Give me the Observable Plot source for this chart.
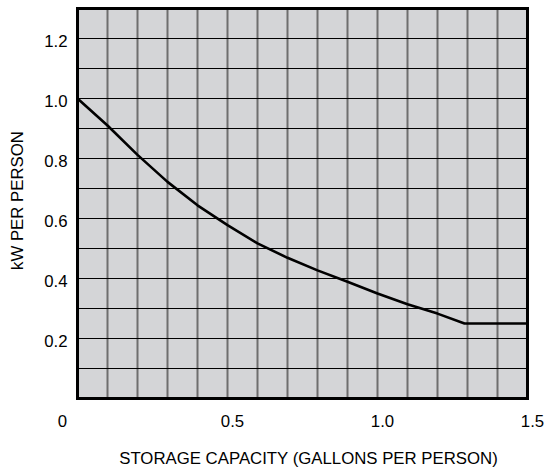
<!DOCTYPE html>
<html>
<head>
<meta charset="utf-8">
<script src="https://cdn.jsdelivr.net/npm/d3@7"></script>
<script src="https://cdn.jsdelivr.net/npm/@observablehq/plot@0.6"></script>
<style>
  html, body { margin: 0; padding: 0; background: #fff; }
  #chart svg { display: block; }
</style>
</head>
<body>
<div id="chart"></div>
<script>
// Storage capacity (gallons per person) vs kW per person
const storage = [0, 0.1, 0.2, 0.3, 0.4, 0.5, 0.6, 0.7, 0.8, 0.9, 1.0, 1.1, 1.2, 1.29, 1.5];
const kwPerPerson = [1.0, 0.91, 0.812, 0.722, 0.644, 0.578, 0.517, 0.469, 0.427, 0.389, 0.35, 0.314, 0.283, 0.25, 0.25];

const xTicks = [0.5, 1.0, 1.5];
const xOriginTick = [0];
const yTicks = [0.2, 0.4, 0.6, 0.8, 1.0, 1.2];
const xGrid = [0.1, 0.2, 0.3, 0.4, 0.5, 0.6, 0.7, 0.8, 0.9, 1.0, 1.1, 1.2, 1.3, 1.4];
const yGrid = [0.1, 0.2, 0.3, 0.4, 0.5, 0.6, 0.7, 0.8, 0.9, 1.0, 1.1, 1.2];

const xTitle = "STORAGE CAPACITY (GALLONS PER PERSON)";
const yTitle = "kW PER PERSON";

const data = storage.map((x, i) => ({x, y: kwPerPerson[i]}));

const FONT = "'Liberation Sans', Arial, Helvetica, sans-serif";
const FS = 16.8;

const chart = Plot.plot({
  width: 544,
  height: 468,
  marginLeft: 77,
  marginRight: 17,
  marginTop: 8,
  marginBottom: 70,
  style: {fontFamily: FONT, fontSize: FS + "px", color: "#000", background: "#fff"},
  x: {domain: [0, 1.5]},
  y: {domain: [0, 1.3]},
  marks: [
    Plot.frame({fill: "#d4d5d7", stroke: "none"}),
    Plot.ruleX(xGrid, {stroke: "#6e6e6e", strokeWidth: 2}),
    Plot.ruleY(yGrid, {stroke: "#000", strokeWidth: 1.2}),
    Plot.line(data, {x: "x", y: "y", stroke: "#000", strokeWidth: 2.6, curve: "linear"}),
    Plot.frame({stroke: "#000", strokeWidth: 3, fill: "none"}),
    Plot.axisY(yTicks, {tickSize: 0, tickPadding: 10, dy: 3, tickFormat: d3.format(".1f"), label: null, fontSize: FS}),
    Plot.axisX(xTicks, {tickSize: 0, tickPadding: 17, dx: 5, tickFormat: d3.format(".1f"), label: null, fontSize: FS}),
    Plot.axisX(xOriginTick, {tickSize: 0, tickPadding: 17, dx: -15, tickFormat: d => "0", label: null, fontSize: FS}),
    Plot.text([xTitle], {frameAnchor: "bottom", textAnchor: "middle", dx: 6, dy: 65, lineAnchor: "bottom", text: d => d, fontSize: FS}),
    Plot.text([yTitle], {frameAnchor: "left", textAnchor: "middle", dx: -60, dy: -3, rotate: -90, text: d => d, fontSize: FS})
  ]
});

document.getElementById("chart").appendChild(chart);
</script>
</body>
</html>
